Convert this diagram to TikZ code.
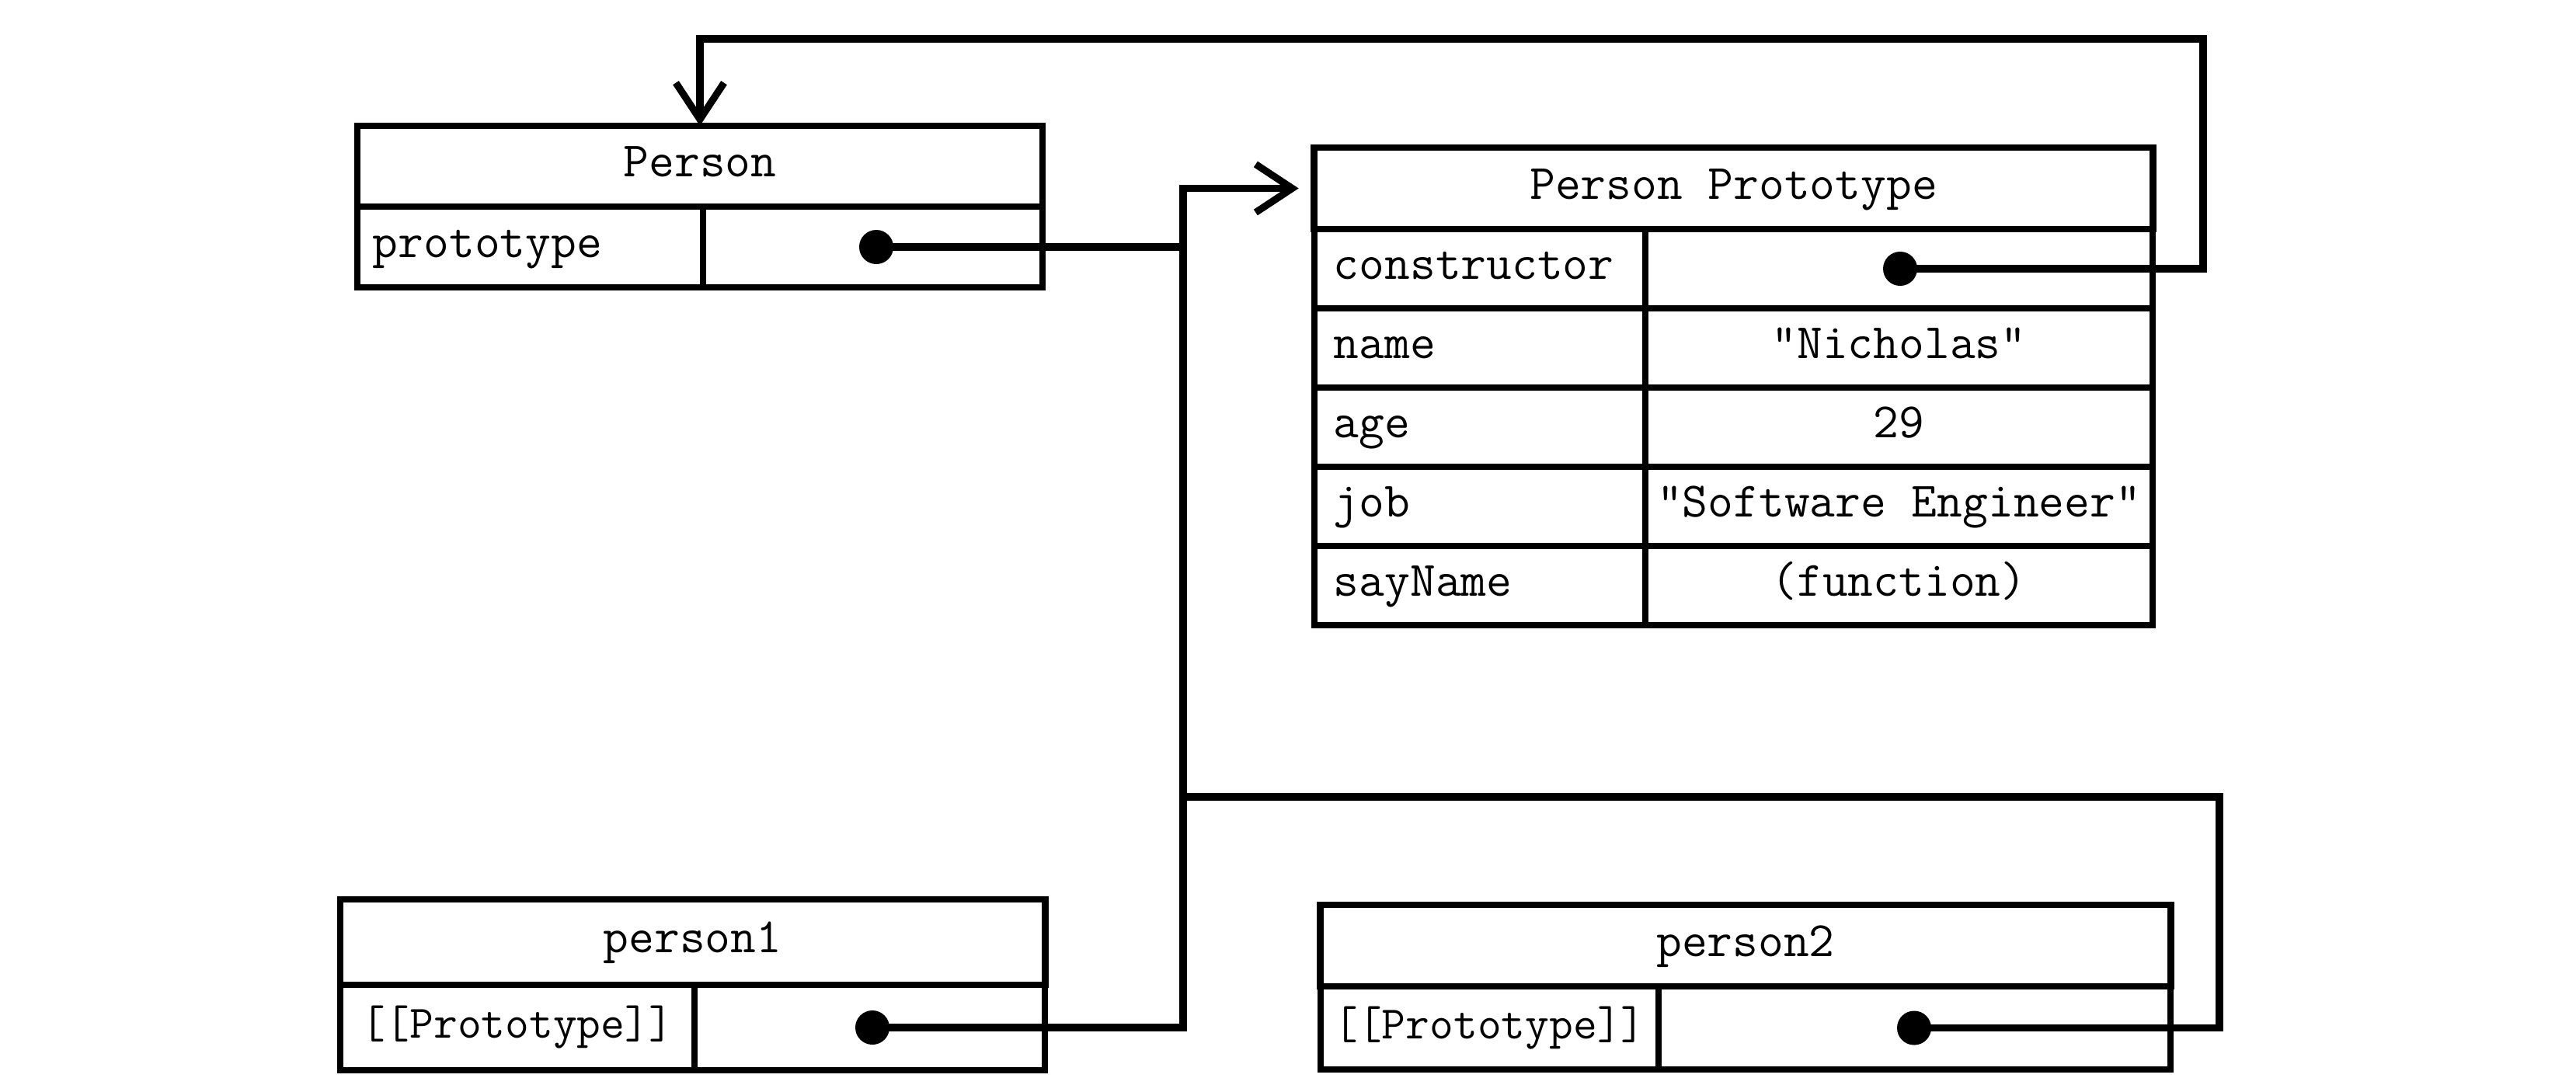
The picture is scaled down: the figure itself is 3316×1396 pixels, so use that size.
\documentclass[tikz,border=0pt]{standalone}
\usetikzlibrary{arrows.meta}
\newcommand\tfont{\fontsize{18.1}{20}\selectfont\ttfamily}
\newcommand\sfontp{\fontsize{17}{19}\selectfont\ttfamily}
\tikzset{
  box/.style={draw, line width=2.4pt, inner sep=0pt, outer sep=0pt, font=\tfont, text height=0.40cm, text depth=0.13cm},
  hdr/.style 2 args={box, minimum width=#1, minimum height=#2},
  val/.style 2 args={box, minimum width=#1, minimum height=#2},
  dot/.style={circle, fill=black, inner sep=0pt, minimum size=0.44cm},
  conn/.style={line width=2.6pt, line join=miter},
  tip/.style={-{Straight Barb[length=0.47cm,width=0.62cm,line width=2.6pt]}},
}
\begin{document}
\begin{tikzpicture}[x=0.01cm,y=-0.01cm]
\useasboundingbox[fill=white] (0,0) rectangle (3316,1396);

% Person
\node[hdr={8.82cm}{1.04cm}] (pH) at (901,214) {Person};
\node[box, minimum width=4.45cm, minimum height=1.04cm, text width=4.05cm, inner xsep=0.2cm, align=left] (pK) at (682.5,318) {prototype};
\node[val={4.37cm}{1.04cm}] (pV) at (1123.5,318) {};
\node[dot] (pd) at (1128,318) {};

% Person Prototype
\node[hdr={10.79cm}{1.05cm}] (ppH) at (2231.5,242.5) {Person Prototype};
\foreach \n/\k/\v/\y in {1/constructor//346, 2/name/"Nicholas"/448, 3/age/29/550, 4/job/"Software Engineer"/652, 5/sayName/(function)/754}{
  \node[box, minimum width=4.26cm, minimum height=1.02cm, text width=3.76cm, inner xsep=0.25cm, align=left] (ppK\n) at (1905,\y) {\k};
  \node[val={6.53cm}{1.02cm}] (ppV\n) at (2444.5,\y) {\v};
}
\node[dot] (cd) at (2446,346) {};

% person1
\node[hdr={9.07cm}{1.10cm}] (p1H) at (891.5,1213) {person1};
\node[val={4.56cm}{1.10cm}, font=\sfontp] (p1K) at (666,1323) {[[Prototype]]};
\node[val={4.51cm}{1.10cm}] (p1V) at (1119.5,1323) {};
\node[dot] (d1) at (1123,1323) {};

% person2
\node[hdr={10.94cm}{1.05cm}] (p2H) at (2247,1217.5) {person2};
\node[val={4.35cm}{1.07cm}, font=\sfontp] (p2K) at (1917.5,1323.5) {[[Prototype]]};
\node[val={6.59cm}{1.07cm}] (p2V) at (2464.5,1323.5) {};
\node[dot] (d2) at (2464,1323.5) {};

% routing points
\coordinate (vtop) at (1523,242.5);
\coordinate (c1r) at (2836,50);
\coordinate (c2r) at (2857,1026);

% connectors
\draw[conn,tip] (d1.center) -| (vtop) -- ([xshift=-0.2cm]ppH.west);
\draw[conn] (pd.center) -- (pd.center -| vtop);
\draw[conn] (d2.center) -| (c2r) -- (c2r -| vtop);
\draw[conn,tip] (cd.center) -| (c1r) -| (pH.north);
\end{tikzpicture}
\end{document}
